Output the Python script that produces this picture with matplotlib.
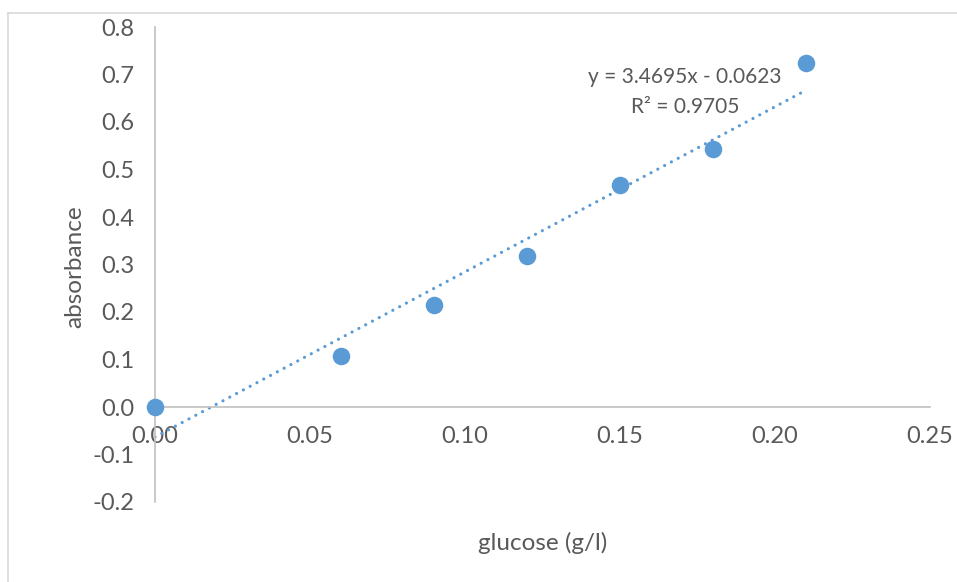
import numpy as np
import matplotlib
matplotlib.use("Agg")
import matplotlib.pyplot as plt
from matplotlib.lines import Line2D

# glucose standard curve
glucose = [0.00, 0.06, 0.09, 0.12, 0.15, 0.18, 0.21]
absorbance = [0.000, 0.107, 0.215, 0.318, 0.467, 0.543, 0.724]

x_ticks = [0.00, 0.05, 0.10, 0.15, 0.20, 0.25]
y_ticks = [-0.2, -0.1, 0.0, 0.1, 0.2, 0.3, 0.4, 0.5, 0.6, 0.7, 0.8]

eq_text = "y = 3.4695x - 0.0623"
r2_text = "R² = 0.9705"

blue = "#5B9BD5"
grey_txt = "#595959"
grey_line = "#C0C0C0"

plt.rcParams['font.family'] = ['Lato', 'DejaVu Sans']

fig = plt.figure(figsize=(9.57, 5.82), dpi=100)
ax = fig.add_axes([155 / 957, 1 - 502 / 582, 775 / 957, 475 / 582])

# chart area border (only top and left visible in the crop)
fig.add_artist(Line2D([8 / 957, 1], [1 - 13 / 582, 1 - 13 / 582], color="#D9D9D9", lw=1.2))
fig.add_artist(Line2D([8 / 957, 8 / 957], [0, 1 - 13 / 582], color="#D9D9D9", lw=1.2))

# linear trendline
slope, intercept = np.polyfit(glucose, absorbance, 1)
xs = np.array([0.0, max(glucose)])
ax.plot(xs, slope * xs + intercept, color=blue, lw=2.3,
        linestyle=(0, (0.01, 2.4)), dash_capstyle='round', zorder=2)

ax.scatter(glucose, absorbance, s=135, color=blue, zorder=3, clip_on=False)

ax.set_xlim(0, 0.25)
ax.set_ylim(-0.2, 0.8)
ax.set_xticks(x_ticks)
ax.set_xticklabels([f"{v:.2f}" for v in x_ticks])
ax.set_yticks(y_ticks)
ax.set_yticklabels([f"{v:.1f}" for v in y_ticks])

for s in ["top", "right"]:
    ax.spines[s].set_visible(False)
ax.spines["bottom"].set_position(("data", 0))
ax.spines["left"].set_position(("data", 0))
for s in ["bottom", "left"]:
    ax.spines[s].set_color(grey_line)
    ax.spines[s].set_linewidth(1.2)

ax.tick_params(axis="x", length=0, pad=14, labelsize=17, labelcolor=grey_txt)
ax.tick_params(axis="y", length=0, pad=15, labelsize=17, labelcolor=grey_txt)

fig.text(543 / 957, 1 - 543 / 582, "glucose (g/l)", ha="center", va="center",
         fontsize=17.5, color=grey_txt)
fig.text(75 / 957, 1 - 267 / 582, "absorbance", ha="center", va="center",
         rotation=90, fontsize=17.5, color=grey_txt)

ax.text(0.684, 0.895, eq_text, transform=ax.transAxes, ha="center", va="center",
        fontsize=15, color=grey_txt)
ax.text(0.684, 0.832, r2_text, transform=ax.transAxes, ha="center", va="center",
        fontsize=15, color=grey_txt)

fig.savefig("out.png", dpi=100)
